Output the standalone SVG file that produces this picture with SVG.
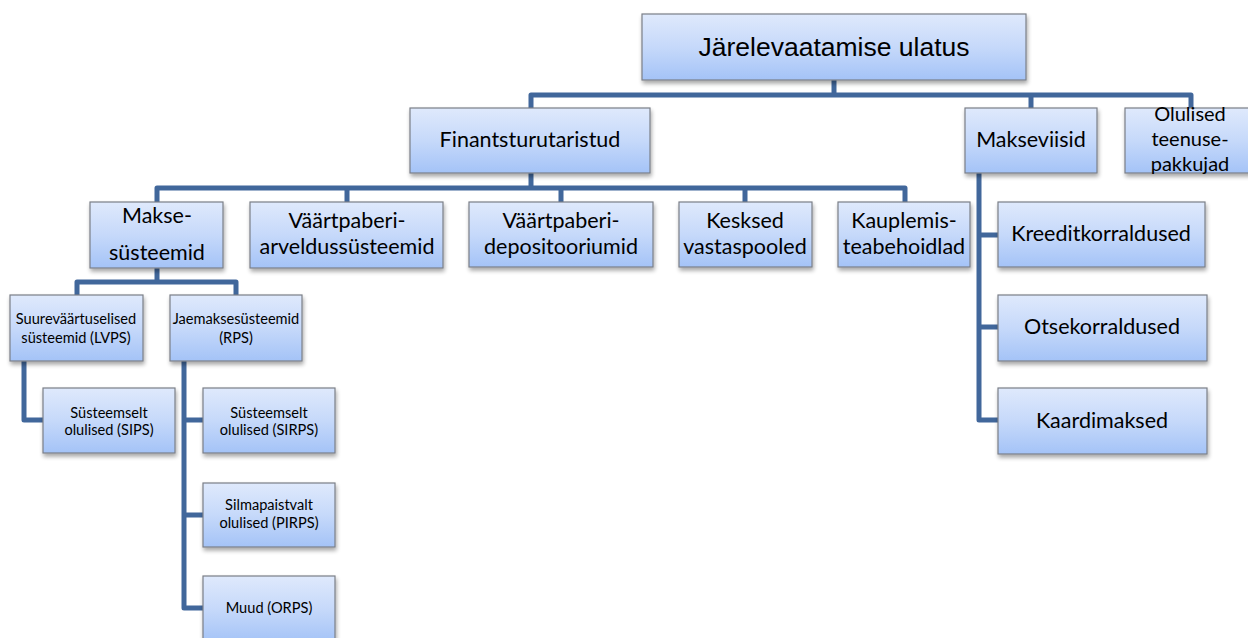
<svg xmlns="http://www.w3.org/2000/svg" width="1248" height="638" viewBox="0 0 1248 638">
<defs>
<linearGradient id="g" x1="0" y1="0" x2="0" y2="1">
<stop offset="0" stop-color="#dfe9fc"/>
<stop offset="0.5" stop-color="#c6d9fa"/>
<stop offset="1" stop-color="#a4c3f7"/>
</linearGradient>
<filter id="sh" x="-10%" y="-10%" width="125%" height="140%">
<feGaussianBlur in="SourceAlpha" stdDeviation="2"/>
<feOffset dx="1" dy="3"/>
<feComponentTransfer><feFuncA type="linear" slope="0.35"/></feComponentTransfer>
<feMerge><feMergeNode/><feMergeNode in="SourceGraphic"/></feMerge>
</filter>
</defs>
<style>
.box{fill:url(#g);stroke:#7b7f87;stroke-width:1.2;filter:url(#sh)}
.c{fill:none;stroke:#41679b;stroke-width:5;stroke-linejoin:round}
text{font-family:Lato,"Open Sans","Noto Sans",sans-serif;fill:#000;text-anchor:middle}
.t{font-family:"Liberation Sans",Arial,sans-serif;font-size:26.5px}
.m{font-size:21.5px}
.o{font-size:20px}
.s{font-size:14.6px}
</style>
<rect width="1248" height="638" fill="#fff"/>
<g id="connectors">
<path class="c" d="M834,80 V95"/>
<path class="c" d="M531,108 V95 H1191 V108"/>
<path class="c" d="M1031,95 V108"/>
<path class="c" d="M531,173 V188"/>
<path class="c" d="M157,202 V188 H905 V202"/>
<path class="c" d="M347,188 V202 M561,188 V202 M745,188 V202"/>
<path class="c" d="M979,173 V420 H998 M979,235 H998 M979,327 H998"/>
<path class="c" d="M157,268 V282"/>
<path class="c" d="M77,295 V282 H236 V295"/>
<path class="c" d="M24,361 V420 H43"/>
<path class="c" d="M184,361 V608 H203 M184,420 H203 M184,515 H203"/>
</g>
<g id="n-root"><rect class="box" x="642" y="14" width="384" height="66"/><text class="t" x="834" y="56">Järelevaatamise ulatus</text></g>
<g id="n-fin"><rect class="box" x="410" y="108" width="240" height="65"/><text class="m" x="530" y="147">Finantsturutaristud</text></g>
<g id="n-makseviisid"><rect class="box" x="965" y="108" width="132" height="65"/><text class="m" x="1031" y="147">Makseviisid</text></g>
<g id="n-olulised"><rect class="box" x="1125" y="108" width="134" height="65"/><text class="o" x="1190" y="121">Olulised</text><text class="o" x="1190" y="146">teenuse-</text><text class="o" x="1190" y="171">pakkujad</text></g>
<g id="n-maksesysteemid"><rect class="box" x="90" y="202" width="133" height="66"/><text class="m" x="157" y="223">Makse-</text><text class="m" x="157" y="260">süsteemid</text></g>
<g id="n-arveldus"><rect class="box" x="250" y="202" width="193" height="66"/><text class="m" x="347" y="228">Väärtpaberi-</text><text class="m" x="347" y="254">arveldussüsteemid</text></g>
<g id="n-depo"><rect class="box" x="469" y="202" width="184" height="65"/><text class="m" x="561" y="228">Väärtpaberi-</text><text class="m" x="561" y="254">depositooriumid</text></g>
<g id="n-kesksed"><rect class="box" x="679" y="202" width="133" height="65"/><text class="m" x="745" y="228">Kesksed</text><text class="m" x="745" y="254">vastaspooled</text></g>
<g id="n-kauplemis"><rect class="box" x="838" y="202" width="132" height="65"/><text class="m" x="904" y="228">Kauplemis-</text><text class="m" x="904" y="254">teabehoidlad</text></g>
<g id="n-kreedit"><rect class="box" x="998" y="202" width="207" height="65"/><text class="m" x="1101" y="241">Kreeditkorraldused</text></g>
<g id="n-otse"><rect class="box" x="998" y="295" width="209" height="66"/><text class="m" x="1102" y="334">Otsekorraldused</text></g>
<g id="n-kaardi"><rect class="box" x="998" y="388" width="209" height="66"/><text class="m" x="1102" y="428">Kaardimaksed</text></g>
<g id="n-lvps"><rect class="box" x="10" y="295" width="133" height="66"/><text class="s" x="76" y="324">Suureväärtuselised</text><text class="s" x="76" y="343">süsteemid (LVPS)</text></g>
<g id="n-rps"><rect class="box" x="170" y="295" width="132" height="66"/><text class="s" x="236" y="324">Jaemaksesüsteemid</text><text class="s" x="236" y="343">(RPS)</text></g>
<g id="n-sips"><rect class="box" x="43" y="388" width="132" height="65"/><text class="s" x="109" y="418">Süsteemselt</text><text class="s" x="109" y="435">olulised (SIPS)</text></g>
<g id="n-sirps"><rect class="box" x="203" y="388" width="132" height="65"/><text class="s" x="269" y="418">Süsteemselt</text><text class="s" x="269" y="435">olulised (SIRPS)</text></g>
<g id="n-pirps"><rect class="box" x="203" y="483" width="132" height="64"/><text class="s" x="269" y="510">Silmapaistvalt</text><text class="s" x="269" y="528">olulised (PIRPS)</text></g>
<g id="n-orps"><rect class="box" x="203" y="576" width="132" height="66"/><text class="s" x="269" y="613">Muud (ORPS)</text></g>
</svg>
